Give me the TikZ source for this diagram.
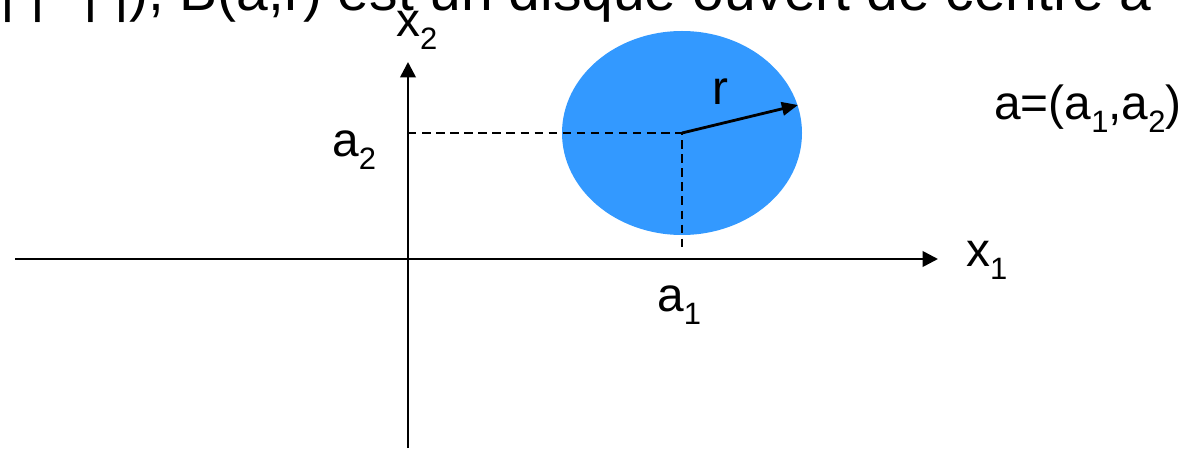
\documentclass[tikz,border=0pt]{standalone}
\usepackage{fontspec}
\setmainfont{Liberation Sans}
\usetikzlibrary{arrows.meta}
\definecolor{DiskBlue}{HTML}{3399FF}
\newcommand{\idx}[1]{\raisebox{-9pt}{\fontsize{22}{22}\selectfont #1}}

\begin{document}
\begin{tikzpicture}[x=0.025cm,y=-0.025cm,font=\fontsize{34}{40}\selectfont,
    lbl/.style={inner sep=0pt,anchor=base west},
    axis/.style={line width=1.9pt,-{Triangle[length=11pt,width=11pt]}},
    guide/.style={line width=1.2pt,dash pattern=on 6pt off 4pt}]
  \useasboundingbox (0,0) rectangle (1183,451);
  % sentence cut off at the top
  \begin{scope}
    \clip (0,0) rectangle (1183,451);
    \node[lbl,font=\fontsize{40.5}{48}\selectfont] (title) at (0,11) {| |\,·\,| |), B(a,r) est un disque ouvert de centre a};
  \end{scope}
  \coordinate (ctr) at (682,133);
  \coordinate (xstart) at (15,259);
  \coordinate (xtip) at (938,259);
  \coordinate (ybot) at (408,448);
  \coordinate (ytip) at (408,62);
  \coordinate (a2pt) at (408,133);
  \coordinate (a1pt) at (682,252);
  \coordinate (rtip) at (798,105);
  \fill[DiskBlue] (ctr) ellipse [x radius=120,y radius=102];
  \draw[axis] (xstart) -- (xtip);
  \draw[axis] (ybot) -- (ytip);
  \draw[guide] (a2pt) -- (ctr) -- (a1pt);
  \draw[line width=2pt,-{Triangle[length=11.5pt,width=9.5pt]}] (ctr) -- (rtip);
  \node[lbl] (x2) at (396,37) {x\idx{2}};
  \node[lbl] (x1) at (966,267) {x\idx{1}};
  \node[lbl] (a2) at (332,157) {a\idx{2}};
  \node[lbl] (a1) at (657,312) {a\idx{1}};
  \node[lbl] (r) at (712,105) {r};
  \node[lbl] (pt) at (994,120) {a=(a\idx{1},a\idx{2})};
\end{tikzpicture}
\end{document}
